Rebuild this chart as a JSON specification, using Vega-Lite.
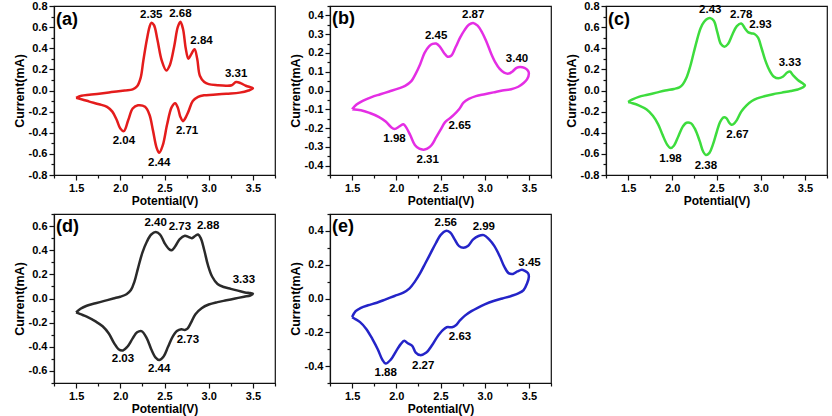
{
  "$schema": "https://vega.github.io/schema/vega-lite/v6.json",
  "autosize": {"type": "none"},
  "padding": {"left": 54, "top": 6, "right": 778, "bottom": 410},
  "background": "white",
  "config": {
    "view": {"stroke": "#111", "strokeWidth": 1.2},
    "font": "Liberation Sans",
    "axis": {
      "grid": false,
      "labelFont": "Liberation Sans", "labelFontWeight": "bold", "labelFontSize": 11, "labelColor": "#000",
      "titleFont": "Liberation Sans", "titleFontWeight": "bold", "titleColor": "#000",
      "domainColor": "#111", "domainWidth": 1.2, "tickColor": "#111", "tickWidth": 1.2
    },
    "axisX": {"titleFontSize": 12, "titlePadding": 2, "labelPadding": 2},
    "axisY": {"titleFontSize": 12.5, "titlePadding": 2, "labelPadding": 2},
    "text": {"font": "Liberation Sans", "fontWeight": "bold", "fontSize": 11.5, "color": "#000", "baseline": "middle", "align": "center"},
    "title": {"anchor": "start", "frame": "group", "orient": "top", "dx": 2, "fontSize": 18, "fontWeight": "bold", "font": "Liberation Sans", "color": "#000"}
  },
  "datasets": {
    "curveA": [
      {"V":1.50,"I":-0.07},{"V":1.56,"I":-0.05},{"V":1.65,"I":-0.04},{"V":1.76,"I":-0.03},{"V":1.90,"I":-0.015},{"V":2.05,"I":0.0},{"V":2.14,"I":0.01},{"V":2.19,"I":0.04},{"V":2.23,"I":0.12},{"V":2.26,"I":0.28},{"V":2.30,"I":0.48},{"V":2.33,"I":0.60},{"V":2.35,"I":0.64},{"V":2.38,"I":0.62},{"V":2.42,"I":0.48},{"V":2.47,"I":0.28},{"V":2.52,"I":0.19},{"V":2.56,"I":0.24},{"V":2.61,"I":0.42},{"V":2.65,"I":0.60},{"V":2.68,"I":0.65},{"V":2.71,"I":0.58},{"V":2.74,"I":0.40},{"V":2.77,"I":0.30},{"V":2.80,"I":0.34},{"V":2.84,"I":0.39},{"V":2.87,"I":0.30},{"V":2.90,"I":0.14},{"V":2.95,"I":0.08},{"V":3.00,"I":0.06},{"V":3.10,"I":0.05},{"V":3.20,"I":0.045},{"V":3.26,"I":0.05},{"V":3.31,"I":0.08},{"V":3.36,"I":0.07},{"V":3.42,"I":0.045},{"V":3.50,"I":0.02},
      {"V":3.45,"I":0.0},{"V":3.35,"I":-0.02},{"V":3.20,"I":-0.03},{"V":3.05,"I":-0.04},{"V":2.95,"I":-0.045},{"V":2.88,"I":-0.06},{"V":2.82,"I":-0.10},{"V":2.77,"I":-0.20},{"V":2.73,"I":-0.27},{"V":2.71,"I":-0.29},{"V":2.68,"I":-0.25},{"V":2.65,"I":-0.16},{"V":2.62,"I":-0.12},{"V":2.58,"I":-0.16},{"V":2.53,"I":-0.32},{"V":2.48,"I":-0.52},{"V":2.44,"I":-0.59},{"V":2.41,"I":-0.54},{"V":2.37,"I":-0.38},{"V":2.33,"I":-0.23},{"V":2.28,"I":-0.155},{"V":2.20,"I":-0.14},{"V":2.14,"I":-0.17},{"V":2.09,"I":-0.28},{"V":2.04,"I":-0.385},{"V":2.00,"I":-0.36},{"V":1.96,"I":-0.28},{"V":1.91,"I":-0.20},{"V":1.85,"I":-0.155},{"V":1.76,"I":-0.13},{"V":1.65,"I":-0.105},{"V":1.57,"I":-0.085},{"V":1.50,"I":-0.07}
    ],
    "labA": [
      {"V":2.35,"I":0.64,"branch":"anodic"},{"V":2.68,"I":0.65,"branch":"anodic"},{"V":2.84,"I":0.39,"branch":"anodic"},{"V":3.31,"I":0.08,"branch":"anodic"},
      {"V":2.04,"I":-0.385,"branch":"cathodic"},{"V":2.44,"I":-0.59,"branch":"cathodic"},{"V":2.71,"I":-0.29,"branch":"cathodic"}
    ],
    "curveB": [
      {"V":1.50,"I":-0.10},{"V":1.55,"I":-0.075},{"V":1.62,"I":-0.055},{"V":1.72,"I":-0.035},{"V":1.82,"I":-0.02},{"V":1.92,"I":-0.005},{"V":2.02,"I":0.01},{"V":2.10,"I":0.025},{"V":2.17,"I":0.05},{"V":2.22,"I":0.09},{"V":2.27,"I":0.14},{"V":2.32,"I":0.20},{"V":2.37,"I":0.235},{"V":2.41,"I":0.248},{"V":2.45,"I":0.25},{"V":2.49,"I":0.235},{"V":2.54,"I":0.20},{"V":2.58,"I":0.18},{"V":2.62,"I":0.185},{"V":2.67,"I":0.23},{"V":2.72,"I":0.28},{"V":2.77,"I":0.32},{"V":2.82,"I":0.35},{"V":2.87,"I":0.36},{"V":2.92,"I":0.345},{"V":2.97,"I":0.31},{"V":3.02,"I":0.26},{"V":3.07,"I":0.20},{"V":3.12,"I":0.15},{"V":3.17,"I":0.115},{"V":3.22,"I":0.095},{"V":3.27,"I":0.09},{"V":3.31,"I":0.10},{"V":3.36,"I":0.12},{"V":3.40,"I":0.125},{"V":3.45,"I":0.12},{"V":3.49,"I":0.105},{"V":3.50,"I":0.09},
      {"V":3.48,"I":0.06},{"V":3.44,"I":0.04},{"V":3.38,"I":0.02},{"V":3.30,"I":0.007},{"V":3.20,"I":0.0},{"V":3.10,"I":-0.01},{"V":3.00,"I":-0.02},{"V":2.90,"I":-0.03},{"V":2.82,"I":-0.045},{"V":2.76,"I":-0.065},{"V":2.71,"I":-0.10},{"V":2.65,"I":-0.13},{"V":2.60,"I":-0.15},{"V":2.55,"I":-0.17},{"V":2.50,"I":-0.21},{"V":2.45,"I":-0.25},{"V":2.40,"I":-0.29},{"V":2.35,"I":-0.31},{"V":2.31,"I":-0.315},{"V":2.26,"I":-0.31},{"V":2.21,"I":-0.29},{"V":2.16,"I":-0.24},{"V":2.11,"I":-0.195},{"V":2.08,"I":-0.18},{"V":2.04,"I":-0.19},{"V":1.98,"I":-0.205},{"V":1.94,"I":-0.195},{"V":1.88,"I":-0.165},{"V":1.80,"I":-0.14},{"V":1.70,"I":-0.12},{"V":1.60,"I":-0.105},{"V":1.50,"I":-0.10}
    ],
    "labB": [
      {"V":2.45,"I":0.25,"branch":"anodic"},{"V":2.87,"I":0.36,"branch":"anodic"},{"V":3.40,"I":0.125,"branch":"anodic"},
      {"V":1.98,"I":-0.205,"branch":"cathodic"},{"V":2.31,"I":-0.315,"branch":"cathodic"},{"V":2.65,"I":-0.13,"branch":"cathodic"}
    ],
    "curveC": [
      {"V":1.50,"I":-0.11},{"V":1.55,"I":-0.085},{"V":1.62,"I":-0.06},{"V":1.72,"I":-0.04},{"V":1.82,"I":-0.02},{"V":1.92,"I":0.0},{"V":2.02,"I":0.015},{"V":2.08,"I":0.03},{"V":2.12,"I":0.06},{"V":2.16,"I":0.12},{"V":2.20,"I":0.22},{"V":2.24,"I":0.35},{"V":2.28,"I":0.48},{"V":2.32,"I":0.59},{"V":2.36,"I":0.65},{"V":2.40,"I":0.68},{"V":2.43,"I":0.685},{"V":2.47,"I":0.66},{"V":2.51,"I":0.55},{"V":2.55,"I":0.44},{"V":2.59,"I":0.415},{"V":2.63,"I":0.44},{"V":2.68,"I":0.53},{"V":2.73,"I":0.61},{"V":2.78,"I":0.635},{"V":2.82,"I":0.59},{"V":2.86,"I":0.55},{"V":2.90,"I":0.54},{"V":2.93,"I":0.535},{"V":2.97,"I":0.50},{"V":3.01,"I":0.40},{"V":3.05,"I":0.29},{"V":3.10,"I":0.19},{"V":3.15,"I":0.13},{"V":3.20,"I":0.115},{"V":3.25,"I":0.13},{"V":3.30,"I":0.17},{"V":3.33,"I":0.18},{"V":3.37,"I":0.14},{"V":3.42,"I":0.10},{"V":3.47,"I":0.07},{"V":3.50,"I":0.05},
      {"V":3.48,"I":0.03},{"V":3.42,"I":0.01},{"V":3.34,"I":-0.005},{"V":3.24,"I":-0.02},{"V":3.14,"I":-0.035},{"V":3.04,"I":-0.055},{"V":2.96,"I":-0.075},{"V":2.90,"I":-0.10},{"V":2.84,"I":-0.14},{"V":2.78,"I":-0.20},{"V":2.73,"I":-0.28},{"V":2.69,"I":-0.32},{"V":2.67,"I":-0.325},{"V":2.64,"I":-0.30},{"V":2.61,"I":-0.26},{"V":2.58,"I":-0.255},{"V":2.54,"I":-0.30},{"V":2.50,"I":-0.40},{"V":2.46,"I":-0.51},{"V":2.42,"I":-0.59},{"V":2.38,"I":-0.61},{"V":2.35,"I":-0.58},{"V":2.31,"I":-0.48},{"V":2.26,"I":-0.37},{"V":2.21,"I":-0.31},{"V":2.16,"I":-0.305},{"V":2.12,"I":-0.34},{"V":2.07,"I":-0.43},{"V":2.02,"I":-0.52},{"V":1.98,"I":-0.545},{"V":1.94,"I":-0.51},{"V":1.89,"I":-0.42},{"V":1.84,"I":-0.32},{"V":1.78,"I":-0.24},{"V":1.71,"I":-0.18},{"V":1.62,"I":-0.14},{"V":1.55,"I":-0.12},{"V":1.50,"I":-0.11}
    ],
    "labC": [
      {"V":2.43,"I":0.685,"branch":"anodic"},{"V":2.78,"I":0.635,"branch":"anodic"},{"V":2.93,"I":0.535,"branch":"anodic"},{"V":3.33,"I":0.18,"branch":"anodic"},
      {"V":1.98,"I":-0.545,"branch":"cathodic"},{"V":2.38,"I":-0.61,"branch":"cathodic"},{"V":2.67,"I":-0.325,"branch":"cathodic"}
    ],
    "curveD": [
      {"V":1.50,"I":-0.115},{"V":1.55,"I":-0.085},{"V":1.62,"I":-0.06},{"V":1.72,"I":-0.04},{"V":1.82,"I":-0.02},{"V":1.92,"I":0.0},{"V":2.00,"I":0.015},{"V":2.07,"I":0.035},{"V":2.12,"I":0.07},{"V":2.16,"I":0.14},{"V":2.20,"I":0.25},{"V":2.25,"I":0.38},{"V":2.30,"I":0.47},{"V":2.35,"I":0.53},{"V":2.40,"I":0.55},{"V":2.45,"I":0.53},{"V":2.50,"I":0.46},{"V":2.55,"I":0.41},{"V":2.58,"I":0.40},{"V":2.62,"I":0.43},{"V":2.67,"I":0.49},{"V":2.73,"I":0.52},{"V":2.77,"I":0.51},{"V":2.81,"I":0.50},{"V":2.85,"I":0.52},{"V":2.88,"I":0.53},{"V":2.91,"I":0.50},{"V":2.95,"I":0.40},{"V":2.99,"I":0.28},{"V":3.04,"I":0.18},{"V":3.10,"I":0.12},{"V":3.17,"I":0.095},{"V":3.25,"I":0.08},{"V":3.33,"I":0.065},{"V":3.41,"I":0.05},{"V":3.47,"I":0.045},{"V":3.50,"I":0.04},
      {"V":3.47,"I":0.025},{"V":3.40,"I":0.015},{"V":3.30,"I":0.0},{"V":3.20,"I":-0.015},{"V":3.10,"I":-0.03},{"V":3.00,"I":-0.05},{"V":2.92,"I":-0.08},{"V":2.85,"I":-0.13},{"V":2.80,"I":-0.20},{"V":2.76,"I":-0.25},{"V":2.73,"I":-0.26},{"V":2.69,"I":-0.255},{"V":2.64,"I":-0.27},{"V":2.59,"I":-0.32},{"V":2.54,"I":-0.40},{"V":2.49,"I":-0.48},{"V":2.44,"I":-0.51},{"V":2.40,"I":-0.49},{"V":2.35,"I":-0.42},{"V":2.30,"I":-0.33},{"V":2.24,"I":-0.27},{"V":2.19,"I":-0.28},{"V":2.14,"I":-0.33},{"V":2.08,"I":-0.40},{"V":2.03,"I":-0.43},{"V":1.98,"I":-0.42},{"V":1.93,"I":-0.37},{"V":1.87,"I":-0.29},{"V":1.80,"I":-0.23},{"V":1.72,"I":-0.19},{"V":1.62,"I":-0.15},{"V":1.55,"I":-0.13},{"V":1.50,"I":-0.115}
    ],
    "labD": [
      {"V":2.40,"I":0.55,"branch":"anodic"},{"V":2.73,"I":0.52,"branch":"anodic"},{"V":2.88,"I":0.53,"branch":"anodic"},{"V":3.33,"I":0.065,"branch":"anodic"},
      {"V":2.03,"I":-0.43,"branch":"cathodic"},{"V":2.44,"I":-0.51,"branch":"cathodic"},{"V":2.73,"I":-0.26,"branch":"cathodic"}
    ],
    "curveE": [
      {"V":1.50,"I":-0.11},{"V":1.54,"I":-0.075},{"V":1.60,"I":-0.055},{"V":1.68,"I":-0.04},{"V":1.78,"I":-0.025},{"V":1.88,"I":-0.005},{"V":1.98,"I":0.015},{"V":2.08,"I":0.035},{"V":2.15,"I":0.06},{"V":2.21,"I":0.10},{"V":2.27,"I":0.15},{"V":2.33,"I":0.21},{"V":2.39,"I":0.27},{"V":2.45,"I":0.33},{"V":2.50,"I":0.375},{"V":2.56,"I":0.40},{"V":2.61,"I":0.39},{"V":2.66,"I":0.35},{"V":2.71,"I":0.31},{"V":2.76,"I":0.30},{"V":2.81,"I":0.31},{"V":2.87,"I":0.35},{"V":2.93,"I":0.37},{"V":2.99,"I":0.375},{"V":3.05,"I":0.35},{"V":3.11,"I":0.31},{"V":3.17,"I":0.25},{"V":3.22,"I":0.19},{"V":3.27,"I":0.15},{"V":3.32,"I":0.145},{"V":3.37,"I":0.16},{"V":3.42,"I":0.17},{"V":3.45,"I":0.165},{"V":3.49,"I":0.15},{"V":3.50,"I":0.13},
      {"V":3.48,"I":0.09},{"V":3.44,"I":0.05},{"V":3.38,"I":0.03},{"V":3.30,"I":0.015},{"V":3.20,"I":0.0},{"V":3.10,"I":-0.015},{"V":3.00,"I":-0.035},{"V":2.92,"I":-0.055},{"V":2.85,"I":-0.075},{"V":2.78,"I":-0.10},{"V":2.72,"I":-0.13},{"V":2.67,"I":-0.16},{"V":2.63,"I":-0.17},{"V":2.57,"I":-0.17},{"V":2.52,"I":-0.19},{"V":2.46,"I":-0.23},{"V":2.40,"I":-0.28},{"V":2.34,"I":-0.32},{"V":2.27,"I":-0.335},{"V":2.22,"I":-0.32},{"V":2.18,"I":-0.28},{"V":2.13,"I":-0.265},{"V":2.09,"I":-0.25},{"V":2.05,"I":-0.27},{"V":2.00,"I":-0.31},{"V":1.94,"I":-0.36},{"V":1.88,"I":-0.385},{"V":1.84,"I":-0.36},{"V":1.79,"I":-0.30},{"V":1.73,"I":-0.24},{"V":1.66,"I":-0.18},{"V":1.59,"I":-0.14},{"V":1.53,"I":-0.12},{"V":1.50,"I":-0.11}
    ],
    "labE": [
      {"V":2.56,"I":0.40,"branch":"anodic"},{"V":2.99,"I":0.375,"branch":"anodic"},{"V":3.45,"I":0.165,"branch":"anodic"},
      {"V":1.88,"I":-0.385,"branch":"cathodic"},{"V":2.27,"I":-0.335,"branch":"cathodic"},{"V":2.63,"I":-0.17,"branch":"cathodic"}
    ]
  },
  "columns": 3,
  "spacing": {"row": 39, "column": 55},
  "bounds": "flush",
  "concat": [
    {
      "width": 221, "height": 169,
      "title": {"text": "(a)", "offset": -29},
      "encoding": {
        "x": {"field": "V", "type": "quantitative", "scale": {"domain": [1.25, 3.75], "nice": false, "zero": false},
              "axis": {"title": "Potential(V)", "values": [1.25,1.5,1.75,2,2.25,2.5,2.75,3,3.25,3.5,3.75],
                       "labelExpr": "round(datum.value*4) % 2 == 0 ? format(datum.value, '.1f') : ''",
                       "tickSize": {"condition": {"test": "round(datum.value*4) % 2 == 1", "value": 3}, "value": 5}}},
        "y": {"field": "I", "type": "quantitative", "scale": {"domain": [-0.8, 0.8], "nice": false, "zero": false},
              "axis": {"title": "Current(mA)", "values": [-0.8,-0.7,-0.6,-0.5,-0.4,-0.3,-0.2,-0.1,0,0.1,0.2,0.3,0.4,0.5,0.6,0.7,0.8],
                       "labelExpr": "abs(round(datum.value*10)) % 2 == 0 ? replace(format(datum.value, '.1f'), '\u2212', '-') : ''",
                       "tickSize": {"condition": {"test": "abs(round(datum.value*10)) % 2 == 1", "value": 3}, "value": 5}}}
      },
      "layer": [
        {"data": {"name": "curveA"}, "transform": [{"window": [{"op": "row_number", "as": "i"}]}],
         "mark": {"type": "line", "color": "#e41c1c", "strokeWidth": 2.5, "interpolate": "catmull-rom"},
         "encoding": {"order": {"field": "i", "type": "quantitative"}}},
        {"data": {"name": "labA"}, "transform": [{"filter": {"field": "V", "oneOf": [2.35, 2.68, 3.31]}}],
         "mark": {"type": "text", "dy": -8}, "encoding": {"text": {"field": "V", "type": "quantitative", "format": ".2f"}}},
        {"data": {"name": "labA"}, "transform": [{"filter": {"field": "V", "oneOf": [2.84]}}],
         "mark": {"type": "text", "dx": 7, "dy": -8}, "encoding": {"text": {"field": "V", "type": "quantitative", "format": ".2f"}}},
        {"data": {"name": "labA"}, "transform": [{"filter": {"field": "V", "oneOf": [2.04, 2.44]}}],
         "mark": {"type": "text", "dy": 10}, "encoding": {"text": {"field": "V", "type": "quantitative", "format": ".2f"}}},
        {"data": {"name": "labA"}, "transform": [{"filter": {"field": "V", "oneOf": [2.71]}}],
         "mark": {"type": "text", "dx": 4, "dy": 10}, "encoding": {"text": {"field": "V", "type": "quantitative", "format": ".2f"}}}
      ]
    },
    {
      "width": 221, "height": 169,
      "title": {"text": "(b)", "offset": -23},
      "encoding": {
        "x": {"field": "V", "type": "quantitative", "scale": {"domain": [1.25, 3.75], "nice": false, "zero": false},
              "axis": {"title": "Potential(V)", "values": [1.25,1.5,1.75,2,2.25,2.5,2.75,3,3.25,3.5,3.75],
                       "labelExpr": "round(datum.value*4) % 2 == 0 ? format(datum.value, '.1f') : ''",
                       "tickSize": {"condition": {"test": "round(datum.value*4) % 2 == 1", "value": 3}, "value": 5}}},
        "y": {"field": "I", "type": "quantitative", "scale": {"domain": [-0.45, 0.45], "nice": false, "zero": false},
              "axis": {"title": "Current(mA)", "values": [-0.45,-0.4,-0.35,-0.3,-0.25,-0.2,-0.15,-0.1,-0.05,0,0.05,0.1,0.15,0.2,0.25,0.3,0.35,0.4,0.45],
                       "labelExpr": "abs(round(datum.value*20)) % 2 == 0 ? replace(format(datum.value, '.1f'), '\u2212', '-') : ''",
                       "tickSize": {"condition": {"test": "abs(round(datum.value*20)) % 2 == 1", "value": 3}, "value": 5}}}
      },
      "layer": [
        {"data": {"name": "curveB"}, "transform": [{"window": [{"op": "row_number", "as": "i"}]}],
         "mark": {"type": "line", "color": "#e42ee4", "strokeWidth": 2.5, "interpolate": "catmull-rom"},
         "encoding": {"order": {"field": "i", "type": "quantitative"}}},
        {"data": {"name": "labB"}, "transform": [{"filter": {"field": "V", "oneOf": [2.45, 2.87]}}],
         "mark": {"type": "text", "dy": -8}, "encoding": {"text": {"field": "V", "type": "quantitative", "format": ".2f"}}},
        {"data": {"name": "labB"}, "transform": [{"filter": {"field": "V", "oneOf": [3.40]}}],
         "mark": {"type": "text", "dx": -3, "dy": -8}, "encoding": {"text": {"field": "V", "type": "quantitative", "format": ".2f"}}},
        {"data": {"name": "labB"}, "transform": [{"filter": {"field": "V", "oneOf": [1.98]}}],
         "mark": {"type": "text", "dy": 10}, "encoding": {"text": {"field": "V", "type": "quantitative", "format": ".2f"}}},
        {"data": {"name": "labB"}, "transform": [{"filter": {"field": "V", "oneOf": [2.31]}}],
         "mark": {"type": "text", "dx": 4, "dy": 10}, "encoding": {"text": {"field": "V", "type": "quantitative", "format": ".2f"}}},
        {"data": {"name": "labB"}, "transform": [{"filter": {"field": "V", "oneOf": [2.65]}}],
         "mark": {"type": "text", "dx": 6, "dy": 11}, "encoding": {"text": {"field": "V", "type": "quantitative", "format": ".2f"}}}
      ]
    },
    {
      "width": 221, "height": 169,
      "title": {"text": "(c)", "offset": -29},
      "encoding": {
        "x": {"field": "V", "type": "quantitative", "scale": {"domain": [1.25, 3.75], "nice": false, "zero": false},
              "axis": {"title": "Potential(V)", "values": [1.25,1.5,1.75,2,2.25,2.5,2.75,3,3.25,3.5,3.75],
                       "labelExpr": "round(datum.value*4) % 2 == 0 ? format(datum.value, '.1f') : ''",
                       "tickSize": {"condition": {"test": "round(datum.value*4) % 2 == 1", "value": 3}, "value": 5}}},
        "y": {"field": "I", "type": "quantitative", "scale": {"domain": [-0.8, 0.8], "nice": false, "zero": false},
              "axis": {"title": "Current(mA)", "values": [-0.8,-0.7,-0.6,-0.5,-0.4,-0.3,-0.2,-0.1,0,0.1,0.2,0.3,0.4,0.5,0.6,0.7,0.8],
                       "labelExpr": "abs(round(datum.value*10)) % 2 == 0 ? replace(format(datum.value, '.1f'), '\u2212', '-') : ''",
                       "tickSize": {"condition": {"test": "abs(round(datum.value*10)) % 2 == 1", "value": 3}, "value": 5}}}
      },
      "layer": [
        {"data": {"name": "curveC"}, "transform": [{"window": [{"op": "row_number", "as": "i"}]}],
         "mark": {"type": "line", "color": "#3ddc3d", "strokeWidth": 2.5, "interpolate": "catmull-rom"},
         "encoding": {"order": {"field": "i", "type": "quantitative"}}},
        {"data": {"name": "labC"}, "transform": [{"filter": {"field": "V", "oneOf": [2.43, 2.78, 3.33]}}],
         "mark": {"type": "text", "dy": -8}, "encoding": {"text": {"field": "V", "type": "quantitative", "format": ".2f"}}},
        {"data": {"name": "labC"}, "transform": [{"filter": {"field": "V", "oneOf": [2.93]}}],
         "mark": {"type": "text", "dx": 6, "dy": -9}, "encoding": {"text": {"field": "V", "type": "quantitative", "format": ".2f"}}},
        {"data": {"name": "labC"}, "transform": [{"filter": {"field": "V", "oneOf": [1.98, 2.38]}}],
         "mark": {"type": "text", "dy": 11}, "encoding": {"text": {"field": "V", "type": "quantitative", "format": ".2f"}}},
        {"data": {"name": "labC"}, "transform": [{"filter": {"field": "V", "oneOf": [2.67]}}],
         "mark": {"type": "text", "dx": 6, "dy": 10}, "encoding": {"text": {"field": "V", "type": "quantitative", "format": ".2f"}}}
      ]
    },
    {
      "width": 221, "height": 169,
      "title": {"text": "(d)", "offset": -23},
      "encoding": {
        "x": {"field": "V", "type": "quantitative", "scale": {"domain": [1.25, 3.75], "nice": false, "zero": false},
              "axis": {"title": "Potential(V)", "values": [1.25,1.5,1.75,2,2.25,2.5,2.75,3,3.25,3.5,3.75],
                       "labelExpr": "round(datum.value*4) % 2 == 0 ? format(datum.value, '.1f') : ''",
                       "tickSize": {"condition": {"test": "round(datum.value*4) % 2 == 1", "value": 3}, "value": 5}}},
        "y": {"field": "I", "type": "quantitative", "scale": {"domain": [-0.7, 0.7], "nice": false, "zero": false},
              "axis": {"title": "Current(mA)", "values": [-0.7,-0.6,-0.5,-0.4,-0.3,-0.2,-0.1,0,0.1,0.2,0.3,0.4,0.5,0.6,0.7],
                       "labelExpr": "abs(round(datum.value*10)) % 2 == 0 ? replace(format(datum.value, '.1f'), '\u2212', '-') : ''",
                       "tickSize": {"condition": {"test": "abs(round(datum.value*10)) % 2 == 1", "value": 3}, "value": 5}}}
      },
      "layer": [
        {"data": {"name": "curveD"}, "transform": [{"window": [{"op": "row_number", "as": "i"}]}],
         "mark": {"type": "line", "color": "#2a2a2a", "strokeWidth": 2.5, "interpolate": "catmull-rom"},
         "encoding": {"order": {"field": "i", "type": "quantitative"}}},
        {"data": {"name": "labD"}, "transform": [{"filter": {"field": "V", "oneOf": [2.40]}}],
         "mark": {"type": "text", "dy": -9}, "encoding": {"text": {"field": "V", "type": "quantitative", "format": ".2f"}}},
        {"data": {"name": "labD"}, "transform": [{"filter": "datum.branch == 'anodic' && datum.V == 2.73"}],
         "mark": {"type": "text", "dx": -5, "dy": -9}, "encoding": {"text": {"field": "V", "type": "quantitative", "format": ".2f"}}},
        {"data": {"name": "labD"}, "transform": [{"filter": {"field": "V", "oneOf": [2.88]}}],
         "mark": {"type": "text", "dx": 10, "dy": -9}, "encoding": {"text": {"field": "V", "type": "quantitative", "format": ".2f"}}},
        {"data": {"name": "labD"}, "transform": [{"filter": {"field": "V", "oneOf": [3.33]}}],
         "mark": {"type": "text", "dx": 6, "dy": -11}, "encoding": {"text": {"field": "V", "type": "quantitative", "format": ".2f"}}},
        {"data": {"name": "labD"}, "transform": [{"filter": {"field": "V", "oneOf": [2.03, 2.44]}}],
         "mark": {"type": "text", "dy": 9}, "encoding": {"text": {"field": "V", "type": "quantitative", "format": ".2f"}}},
        {"data": {"name": "labD"}, "transform": [{"filter": "datum.branch == 'cathodic' && datum.V == 2.73"}],
         "mark": {"type": "text", "dx": 3, "dy": 10}, "encoding": {"text": {"field": "V", "type": "quantitative", "format": ".2f"}}}
      ]
    },
    {
      "width": 221, "height": 169,
      "title": {"text": "(e)", "offset": -23},
      "encoding": {
        "x": {"field": "V", "type": "quantitative", "scale": {"domain": [1.25, 3.75], "nice": false, "zero": false},
              "axis": {"title": "Potential(V)", "values": [1.25,1.5,1.75,2,2.25,2.5,2.75,3,3.25,3.5,3.75],
                       "labelExpr": "round(datum.value*4) % 2 == 0 ? format(datum.value, '.1f') : ''",
                       "tickSize": {"condition": {"test": "round(datum.value*4) % 2 == 1", "value": 3}, "value": 5}}},
        "y": {"field": "I", "type": "quantitative", "scale": {"domain": [-0.5, 0.5], "nice": false, "zero": false},
              "axis": {"title": "Current(mA)", "values": [-0.5,-0.4,-0.3,-0.2,-0.1,0,0.1,0.2,0.3,0.4,0.5],
                       "labelExpr": "abs(round(datum.value*10)) % 2 == 0 ? replace(format(datum.value, '.1f'), '\u2212', '-') : ''",
                       "tickSize": {"condition": {"test": "abs(round(datum.value*10)) % 2 == 1", "value": 3}, "value": 5}}}
      },
      "layer": [
        {"data": {"name": "curveE"}, "transform": [{"window": [{"op": "row_number", "as": "i"}]}],
         "mark": {"type": "line", "color": "#2424c8", "strokeWidth": 2.5, "interpolate": "catmull-rom"},
         "encoding": {"order": {"field": "i", "type": "quantitative"}}},
        {"data": {"name": "labE"}, "transform": [{"filter": {"field": "V", "oneOf": [2.56, 2.99]}}],
         "mark": {"type": "text", "dy": -8}, "encoding": {"text": {"field": "V", "type": "quantitative", "format": ".2f"}}},
        {"data": {"name": "labE"}, "transform": [{"filter": {"field": "V", "oneOf": [3.45]}}],
         "mark": {"type": "text", "dx": 5, "dy": -8}, "encoding": {"text": {"field": "V", "type": "quantitative", "format": ".2f"}}},
        {"data": {"name": "labE"}, "transform": [{"filter": {"field": "V", "oneOf": [1.88]}}],
         "mark": {"type": "text", "dy": 9}, "encoding": {"text": {"field": "V", "type": "quantitative", "format": ".2f"}}},
        {"data": {"name": "labE"}, "transform": [{"filter": {"field": "V", "oneOf": [2.27]}}],
         "mark": {"type": "text", "dx": 3, "dy": 11}, "encoding": {"text": {"field": "V", "type": "quantitative", "format": ".2f"}}},
        {"data": {"name": "labE"}, "transform": [{"filter": {"field": "V", "oneOf": [2.63]}}],
         "mark": {"type": "text", "dx": 8, "dy": 10}, "encoding": {"text": {"field": "V", "type": "quantitative", "format": ".2f"}}}
      ]
    }
  ]
}
